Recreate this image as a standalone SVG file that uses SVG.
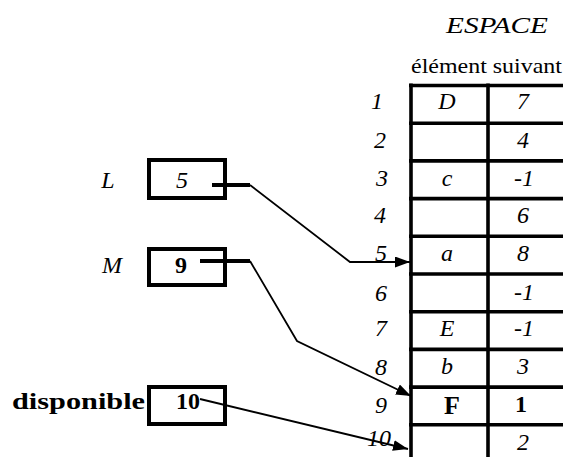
<svg xmlns="http://www.w3.org/2000/svg" width="563" height="457" viewBox="0 0 563 457">
<style>
.c{text-anchor:middle}
.t{font-family:"Liberation Serif","Times New Roman",serif;fill:#000}
.it{font-style:italic;font-size:24px}
.bf{font-weight:bold;font-size:24px}
.grid{stroke:#000;stroke-width:3.6;fill:none}
.box{stroke:#000;stroke-width:4;fill:#fff}
.stub{stroke:#000;stroke-width:4;fill:none}
.link{stroke:#000;stroke-width:1.8;fill:none;marker-end:url(#ah)}
</style>
<defs>
<marker id="ah" markerUnits="userSpaceOnUse" markerWidth="16" markerHeight="12" refX="15" refY="5.5" orient="auto">
<path d="M0,0 L15,5.5 L0,11 Z" fill="#000"/>
</marker>
</defs>
<rect width="563" height="457" fill="#fff"/>
<g id="header" class="t">
<text class="it" x="446" y="33" textLength="102" lengthAdjust="spacingAndGlyphs">ESPACE</text>
<text x="411" y="73" style="font-size:21px" textLength="151" lengthAdjust="spacingAndGlyphs">élément suivant</text>
</g>
<g id="espace-table" class="t">
<g class="grid">
<line x1="411" y1="83.5" x2="411" y2="457"/>
<line x1="488" y1="83.5" x2="488" y2="457"/>
<line x1="409" y1="85.5" x2="565" y2="85.5"/>
<line x1="409" y1="123.2" x2="565" y2="123.2"/>
<line x1="409" y1="160.9" x2="565" y2="160.9"/>
<line x1="409" y1="198.6" x2="565" y2="198.6"/>
<line x1="409" y1="236.3" x2="565" y2="236.3"/>
<line x1="409" y1="274" x2="565" y2="274"/>
<line x1="409" y1="311.7" x2="565" y2="311.7"/>
<line x1="409" y1="349.4" x2="565" y2="349.4"/>
<line x1="409" y1="387.1" x2="565" y2="387.1"/>
<line x1="409" y1="424.8" x2="565" y2="424.8"/>
</g>
<g id="row-labels" class="it c">
<text x="377" y="109">1</text>
<text x="380" y="148">2</text>
<text x="382" y="186">3</text>
<text x="380" y="223">4</text>
<text x="381" y="261">5</text>
<text x="381" y="301">6</text>
<text x="381" y="336">7</text>
<text x="381" y="375">8</text>
<text x="381" y="413">9</text>
<text x="379" y="446">10</text>
</g>
<g id="cells" class="it c">
<text x="447" y="109">D</text><text x="523" y="109">7</text>
<text x="523" y="148">4</text>
<text x="447" y="186">c</text><text x="524" y="186">-1</text>
<text x="523" y="223">6</text>
<text x="447" y="261">a</text><text x="523" y="261">8</text>
<text x="524" y="300">-1</text>
<text x="447" y="336">E</text><text x="524" y="336">-1</text>
<text x="447" y="374">b</text><text x="523" y="374">3</text>
<text x="523" y="450">2</text>
</g>
<text class="bf c" x="452" y="414" style="font-size:26px">F</text>
<text class="bf c" x="521" y="412">1</text>
</g>
<g id="node-L" class="t">
<text class="it c" x="108" y="188">L</text>
<rect class="box" x="149" y="160" width="76" height="38"/>
<text class="it c" x="182" y="188">5</text>
</g>
<g id="node-M" class="t">
<text class="it c" x="112" y="273">M</text>
<rect class="box" x="149" y="249" width="76" height="36"/>
<text class="bf c" x="181" y="273">9</text>
</g>
<g id="node-disponible" class="t">
<text class="bf" x="12" y="409" textLength="133" lengthAdjust="spacingAndGlyphs">disponible</text>
<rect class="box" x="149" y="387" width="76" height="37"/>
<text class="bf c" x="188" y="409">10</text>
</g>
<g id="connectors">
<line class="stub" x1="212" y1="185" x2="250" y2="185"/>
<path class="link" d="M250,185 L350,262 L410,262"/>
<line class="stub" x1="200" y1="261" x2="250" y2="261"/>
<path class="link" d="M250,261 L297,341 L411,396"/>
<path class="link" d="M200,399 L408,449"/>
</g>
</svg>
